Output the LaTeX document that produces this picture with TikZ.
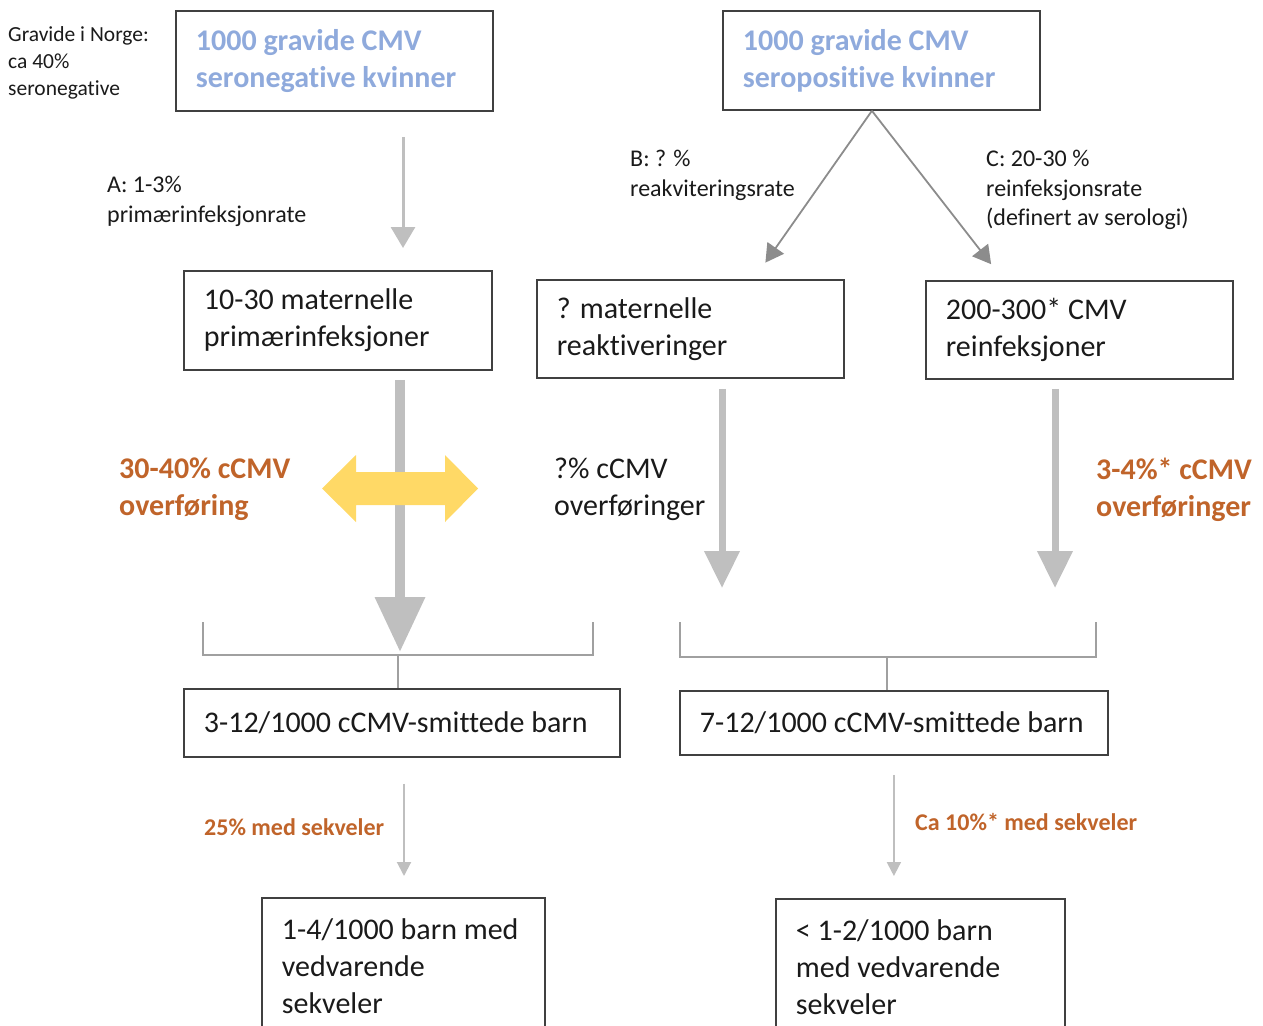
\documentclass[tikz,border=0pt]{standalone}
\usepackage{fontspec}
\setmainfont{Carlito}[Ligatures=NoCommon]
\usetikzlibrary{arrows.meta, calc, positioning}
\definecolor{boxcol}{RGB}{64, 64, 64}
\definecolor{inkcol}{RGB}{26, 26, 26}
\definecolor{bluecol}{RGB}{143, 170, 220}
\definecolor{orangecol}{RGB}{192, 100, 42}
\definecolor{arrowcol}{RGB}{191, 191, 191}
\definecolor{linkcol}{RGB}{140, 140, 140}
\definecolor{brkcol}{RGB}{160, 160, 160}
\definecolor{goldcol}{RGB}{255, 217, 102}
\tikzset{
  % keep the font's own word space, TikZ's align would widen it
  txt/.style      = {align=flush left,
                     execute at begin node={\spaceskip=0pt\xspaceskip=0pt\relax}},
  box/.style      = {txt, draw=boxcol, line width=1.8pt, anchor=north west,
                     inner xsep=20pt, inner ysep=0pt, text=inkcol,
                     font=\fontsize{30}{37}\selectfont},
  topbox/.style   = {box, text=bluecol, font=\fontsize{30}{37}\selectfont\bfseries},
  lbl/.style      = {txt, anchor=north west, inner sep=0pt, text=inkcol,
                     font=\fontsize{24}{29.5}\selectfont},
  sidenote/.style = {lbl, font=\fontsize{21.5}{27}\selectfont},
  rate/.style     = {lbl, font=\fontsize{30}{37}\selectfont},
  hot/.style      = {lbl, text=orangecol, font=\fontsize{30}{37}\selectfont\bfseries},
  hotsmall/.style = {lbl, text=orangecol, font=\fontsize{24}{29.5}\selectfont\bfseries},
  flow/.style     = {-{Triangle[width=24pt, length=21pt]}, draw=arrowcol,
                     fill=arrowcol, line width=3pt},
  small/.style    = {-{Triangle[width=14pt, length=14pt]}, draw=arrowcol,
                     fill=arrowcol, line width=2pt},
  link/.style     = {-{Triangle[width=20pt, length=18pt]}, draw=linkcol,
                     fill=linkcol, line width=1.8pt},
  bigflow/.style  = {-{Triangle[width=48pt, length=55pt]}, draw=arrowcol,
                     fill=arrowcol, line width=10pt},
  midflow/.style  = {-{Triangle[width=34pt, length=37pt]}, draw=arrowcol,
                     fill=arrowcol, line width=7pt},
  brk/.style      = {draw=brkcol, line width=1.8pt},
  mix/.style      = {fill=goldcol},
}
\begin{document}
\begin{tikzpicture}[x=1pt, y=-1pt]
  \path[use as bounding box] (0,0) rectangle (1263,1025);
  \clip (0,0) rectangle (1263,1025);

  %% ---------------- the two groups ----------------
  \node[topbox, text width=277pt, minimum height=100pt] (sneg) at (175,10)
       {1000 gravide CMV\\seronegative kvinner};
  \node[topbox, text width=277pt, minimum height=99pt] (spos) at (722,10)
       {1000 gravide CMV\\seropositive kvinner};
  \node[sidenote] (norge) at (8,26.5) {Gravide i Norge:\\ca 40\%\\seronegative};

  %% ---------------- maternal infections ----------------
  \node[box, text width=268pt, minimum height=99pt] (prim) at (183,270)
       {10-30 maternelle\\primærinfeksjoner};
  \node[box, text width=267pt, minimum height=98pt] (reak) at (536,279)
       {? maternelle\\reaktiveringer};
  \node[box, text width=267pt, minimum height=98pt] (rein) at (925,280)
       {200-300* CMV\\reinfeksjoner};

  \node[lbl] (rateA) at (107,176) {A: 1-3\%\\primærinfeksjonrate};
  \node[lbl] (rateB) at (630,150) {B: ? \%\\reakviteringsrate};
  \node[lbl] (rateC) at (986,150) {C: 20-30 \%\\reinfeksjonsrate\\(definert av serologi)};

  %% ---------------- infected children ----------------
  \node[box, text width=396pt, minimum height=68pt] (barnL) at (183,688)
       {3-12/1000 cCMV-smittede barn};
  \node[box, text width=388pt, minimum height=64pt] (barnR) at (679,690)
       {7-12/1000 cCMV-smittede barn};
  \node[box, text width=243pt, minimum height=136pt] (sekL) at (261,897)
       {1-4/1000 barn med\\vedvarende\\sekveler};
  \node[box, text width=249pt, minimum height=136pt] (sekR) at (775,898)
       {< 1-2/1000 barn\\med vedvarende\\sekveler};

  \node[hot]  (trL) at (119,458) {30-40\% cCMV\\overføring};
  \node[rate] (trM) at (554,458) {?\% cCMV\\overføringer};
  \node[hot]  (trR) at (1096,458) {3-4\%* cCMV\\overføringer};
  \node[hotsmall] (sekvL) at (204,818) {25\% med sekveler};
  \node[hotsmall] (sekvR) at (915,813) {Ca 10\%* med sekveler};

  %% ---------------- arrows ----------------
  \coordinate (colA) at (403,0);
  \coordinate (colS) at (404,0);
  \coordinate (tipP) at (400,652);
  \coordinate (tipR) at (722,588);
  \coordinate (tipI) at (1055,588);
  \coordinate (brL) at (398,655);
  \coordinate (brR) at (887,657);

  \draw[flow, shorten <=25pt, shorten >=22pt] (sneg.south -| colA) -- (prim.north -| colA);
  \draw[link, shorten >=20pt] ([xshift=-9.5pt]spos.south) -- ([xshift=63.5pt]reak.north);
  \draw[link, shorten >=20pt] ([xshift=-9.5pt]spos.south) -- ([xshift=-76pt]rein.north);

  \draw[bigflow, shorten <=9pt] (prim.south -| tipP) -- (tipP);
  \draw[midflow, shorten <=10pt] (reak.south -| tipR) -- (tipR);
  \draw[midflow, shorten <=9pt] (rein.south -| tipI) -- (tipI);

  % the yellow double arrow sits on top of the thick shaft
  \fill[mix] (322,488.5) -- (356,455) -- (356,472) -- (445,472) -- (445,455)
       -- (478,488.5) -- (445,522) -- (445,505) -- (356,505) -- (356,522) -- cycle;

  %% ---------------- brackets ----------------
  \draw[brk] (203,622) |- (593,655) -- (593,622);
  \draw[brk] (brL) -- (brL |- barnL.north);
  \draw[brk] (680,622) |- (1096,657) -- (1096,622);
  \draw[brk] (brR) -- (brR |- barnR.north);

  \draw[small, shorten <=26pt, shorten >=21pt] (barnL.south -| colS) -- (sekL.north -| colS);
  \draw[small, shorten <=19pt, shorten >=22pt] (barnR.south) -- (barnR.south |- sekR.north);

\end{tikzpicture}
\end{document}
